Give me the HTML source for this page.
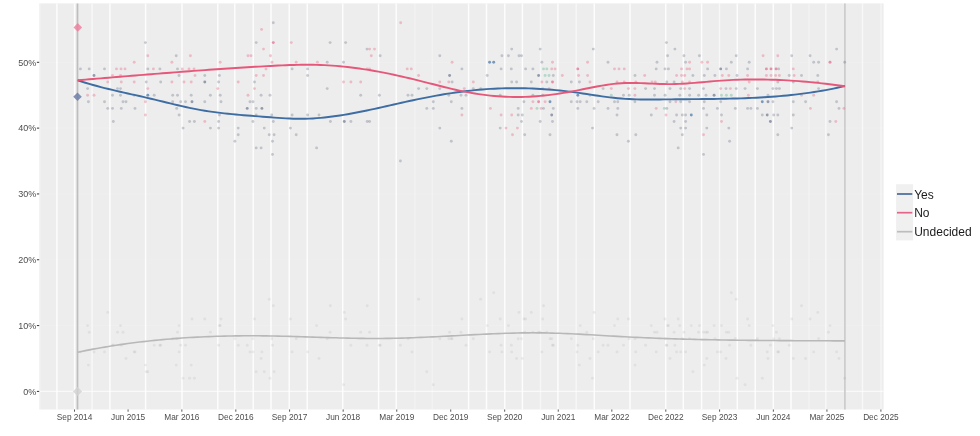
<!DOCTYPE html><html><head><meta charset="utf-8"><style>html,body{margin:0;padding:0;background:#fff;width:980px;height:436px;overflow:hidden}svg{display:block;filter:blur(0.35px)}text{font-family:"Liberation Sans",Arial,sans-serif}</style></head><body>
<svg width="980" height="436" viewBox="0 0 980 436">
<rect x="39.2" y="3.4" width="844.4" height="406.1" fill="#EDEDED"/>
<line x1="39.2" x2="883.6" y1="325.58" y2="325.58" stroke="#fff" stroke-opacity="0.12" stroke-width="1.2"/>
<line x1="39.2" x2="883.6" y1="259.76" y2="259.76" stroke="#fff" stroke-opacity="0.12" stroke-width="1.2"/>
<line x1="39.2" x2="883.6" y1="193.94" y2="193.94" stroke="#fff" stroke-opacity="0.12" stroke-width="1.2"/>
<line x1="39.2" x2="883.6" y1="128.12" y2="128.12" stroke="#fff" stroke-opacity="0.12" stroke-width="1.2"/>
<line x1="39.2" x2="883.6" y1="62.30" y2="62.30" stroke="#fff" stroke-opacity="0.12" stroke-width="1.2"/>
<line x1="39.2" x2="883.6" y1="391.40" y2="391.40" stroke="#fff" stroke-opacity="0.65" stroke-width="1.3"/>
<line x1="40.0" x2="40.0" y1="3.4" y2="409.5" stroke="#fff" stroke-opacity="0.26" stroke-width="1.5"/>
<line x1="56.9" x2="56.9" y1="3.4" y2="409.5" stroke="#fff" stroke-opacity="0.85" stroke-width="1.5"/>
<line x1="74.6" x2="74.6" y1="3.4" y2="409.5" stroke="#fff" stroke-opacity="0.85" stroke-width="1.5"/>
<line x1="92.1" x2="92.1" y1="3.4" y2="409.5" stroke="#fff" stroke-opacity="0.59" stroke-width="1.5"/>
<line x1="109.9" x2="109.9" y1="3.4" y2="409.5" stroke="#fff" stroke-opacity="0.85" stroke-width="1.5"/>
<line x1="145.6" x2="145.6" y1="3.4" y2="409.5" stroke="#fff" stroke-opacity="0.85" stroke-width="1.5"/>
<line x1="182" x2="182" y1="3.4" y2="409.5" stroke="#fff" stroke-opacity="0.85" stroke-width="1.5"/>
<line x1="217.8" x2="217.8" y1="3.4" y2="409.5" stroke="#fff" stroke-opacity="0.85" stroke-width="1.5"/>
<line x1="234.8" x2="234.8" y1="3.4" y2="409.5" stroke="#fff" stroke-opacity="0.85" stroke-width="1.5"/>
<line x1="253.2" x2="253.2" y1="3.4" y2="409.5" stroke="#fff" stroke-opacity="0.85" stroke-width="1.5"/>
<line x1="271" x2="271" y1="3.4" y2="409.5" stroke="#fff" stroke-opacity="0.85" stroke-width="1.5"/>
<line x1="289.2" x2="289.2" y1="3.4" y2="409.5" stroke="#fff" stroke-opacity="0.85" stroke-width="1.5"/>
<line x1="307.2" x2="307.2" y1="3.4" y2="409.5" stroke="#fff" stroke-opacity="0.85" stroke-width="1.5"/>
<line x1="342.7" x2="342.7" y1="3.4" y2="409.5" stroke="#fff" stroke-opacity="0.85" stroke-width="1.5"/>
<line x1="378.6" x2="378.6" y1="3.4" y2="409.5" stroke="#fff" stroke-opacity="0.85" stroke-width="1.5"/>
<line x1="396.2" x2="396.2" y1="3.4" y2="409.5" stroke="#fff" stroke-opacity="0.85" stroke-width="1.5"/>
<line x1="414.9" x2="414.9" y1="3.4" y2="409.5" stroke="#fff" stroke-opacity="0.30" stroke-width="1.5"/>
<line x1="432.3" x2="432.3" y1="3.4" y2="409.5" stroke="#fff" stroke-opacity="0.30" stroke-width="1.5"/>
<line x1="468.6" x2="468.6" y1="3.4" y2="409.5" stroke="#fff" stroke-opacity="0.85" stroke-width="1.5"/>
<line x1="486.5" x2="486.5" y1="3.4" y2="409.5" stroke="#fff" stroke-opacity="0.85" stroke-width="1.5"/>
<line x1="504.8" x2="504.8" y1="3.4" y2="409.5" stroke="#fff" stroke-opacity="0.85" stroke-width="1.5"/>
<line x1="522.4" x2="522.4" y1="3.4" y2="409.5" stroke="#fff" stroke-opacity="0.85" stroke-width="1.5"/>
<line x1="540.5" x2="540.5" y1="3.4" y2="409.5" stroke="#fff" stroke-opacity="0.51" stroke-width="1.5"/>
<line x1="557.9" x2="557.9" y1="3.4" y2="409.5" stroke="#fff" stroke-opacity="0.85" stroke-width="1.5"/>
<line x1="576.2" x2="576.2" y1="3.4" y2="409.5" stroke="#fff" stroke-opacity="0.51" stroke-width="1.5"/>
<line x1="594.3" x2="594.3" y1="3.4" y2="409.5" stroke="#fff" stroke-opacity="0.85" stroke-width="1.5"/>
<line x1="630" x2="630" y1="3.4" y2="409.5" stroke="#fff" stroke-opacity="0.85" stroke-width="1.5"/>
<line x1="665.7" x2="665.7" y1="3.4" y2="409.5" stroke="#fff" stroke-opacity="0.85" stroke-width="1.5"/>
<line x1="683.3" x2="683.3" y1="3.4" y2="409.5" stroke="#fff" stroke-opacity="0.85" stroke-width="1.5"/>
<line x1="701.6" x2="701.6" y1="3.4" y2="409.5" stroke="#fff" stroke-opacity="0.85" stroke-width="1.5"/>
<line x1="719.5" x2="719.5" y1="3.4" y2="409.5" stroke="#fff" stroke-opacity="0.59" stroke-width="1.5"/>
<line x1="737.3" x2="737.3" y1="3.4" y2="409.5" stroke="#fff" stroke-opacity="0.85" stroke-width="1.5"/>
<line x1="755.2" x2="755.2" y1="3.4" y2="409.5" stroke="#fff" stroke-opacity="0.85" stroke-width="1.5"/>
<line x1="773.3" x2="773.3" y1="3.4" y2="409.5" stroke="#fff" stroke-opacity="0.85" stroke-width="1.5"/>
<line x1="791" x2="791" y1="3.4" y2="409.5" stroke="#fff" stroke-opacity="0.85" stroke-width="1.5"/>
<line x1="809" x2="809" y1="3.4" y2="409.5" stroke="#fff" stroke-opacity="0.30" stroke-width="1.5"/>
<line x1="825.8" x2="825.8" y1="3.4" y2="409.5" stroke="#fff" stroke-opacity="0.59" stroke-width="1.5"/>
<line x1="862.5" x2="862.5" y1="3.4" y2="409.5" stroke="#fff" stroke-opacity="0.59" stroke-width="1.5"/>
<line x1="881.0" x2="881.0" y1="3.4" y2="409.5" stroke="#fff" stroke-opacity="0.47" stroke-width="1.5"/>
<line x1="77.5" x2="77.5" y1="3.4" y2="409.5" stroke="#BEBEBE" stroke-width="1.7"/>
<line x1="844.9" x2="844.9" y1="3.4" y2="409.5" stroke="#CBCBCB" stroke-width="1.7"/>
<g><circle cx="80.4" cy="351.9" r="1.45" fill="#A0A0A0" fill-opacity="0.17"/><circle cx="87.6" cy="325.6" r="1.45" fill="#A0A0A0" fill-opacity="0.17"/><circle cx="88.4" cy="365.1" r="1.45" fill="#A0A0A0" fill-opacity="0.17"/><circle cx="89.2" cy="332.2" r="1.45" fill="#A0A0A0" fill-opacity="0.17"/><circle cx="94.0" cy="351.9" r="1.45" fill="#A0A0A0" fill-opacity="0.17"/><circle cx="104.5" cy="351.9" r="1.45" fill="#A0A0A0" fill-opacity="0.17"/><circle cx="107.7" cy="312.4" r="1.45" fill="#A0A0A0" fill-opacity="0.17"/><circle cx="112.5" cy="345.3" r="1.45" fill="#A0A0A0" fill-opacity="0.17"/><circle cx="113.3" cy="345.3" r="1.45" fill="#A0A0A0" fill-opacity="0.17"/><circle cx="117.5" cy="332.2" r="1.45" fill="#A0A0A0" fill-opacity="0.17"/><circle cx="120.5" cy="325.6" r="1.45" fill="#A0A0A0" fill-opacity="0.17"/><circle cx="121.3" cy="345.3" r="1.45" fill="#A0A0A0" fill-opacity="0.17"/><circle cx="123.0" cy="332.2" r="1.45" fill="#A0A0A0" fill-opacity="0.17"/><circle cx="126.0" cy="358.5" r="1.45" fill="#A0A0A0" fill-opacity="0.17"/><circle cx="134.2" cy="351.9" r="1.45" fill="#A0A0A0" fill-opacity="0.17"/><circle cx="135.0" cy="351.9" r="1.45" fill="#A0A0A0" fill-opacity="0.17"/><circle cx="145.4" cy="365.1" r="1.45" fill="#A0A0A0" fill-opacity="0.17"/><circle cx="146.2" cy="371.7" r="1.45" fill="#A0A0A0" fill-opacity="0.17"/><circle cx="147.8" cy="371.7" r="1.45" fill="#A0A0A0" fill-opacity="0.17"/><circle cx="154.2" cy="345.3" r="1.45" fill="#A0A0A0" fill-opacity="0.17"/><circle cx="159.9" cy="345.3" r="1.45" fill="#A0A0A0" fill-opacity="0.17"/><circle cx="160.7" cy="345.3" r="1.45" fill="#A0A0A0" fill-opacity="0.17"/><circle cx="172.7" cy="338.7" r="1.45" fill="#A0A0A0" fill-opacity="0.17"/><circle cx="176.2" cy="365.1" r="1.45" fill="#A0A0A0" fill-opacity="0.17"/><circle cx="176.7" cy="338.7" r="1.45" fill="#A0A0A0" fill-opacity="0.17"/><circle cx="177.5" cy="332.2" r="1.45" fill="#A0A0A0" fill-opacity="0.17"/><circle cx="179.0" cy="325.6" r="1.45" fill="#A0A0A0" fill-opacity="0.17"/><circle cx="179.1" cy="351.9" r="1.45" fill="#A0A0A0" fill-opacity="0.17"/><circle cx="180.7" cy="345.3" r="1.45" fill="#A0A0A0" fill-opacity="0.17"/><circle cx="183.1" cy="378.2" r="1.45" fill="#A0A0A0" fill-opacity="0.17"/><circle cx="185.5" cy="345.3" r="1.45" fill="#A0A0A0" fill-opacity="0.17"/><circle cx="189.6" cy="378.2" r="1.45" fill="#A0A0A0" fill-opacity="0.17"/><circle cx="191.2" cy="365.1" r="1.45" fill="#A0A0A0" fill-opacity="0.17"/><circle cx="192.0" cy="319.0" r="1.45" fill="#A0A0A0" fill-opacity="0.17"/><circle cx="194.4" cy="378.2" r="1.45" fill="#A0A0A0" fill-opacity="0.17"/><circle cx="204.8" cy="319.0" r="1.45" fill="#A0A0A0" fill-opacity="0.17"/><circle cx="210.4" cy="332.2" r="1.45" fill="#A0A0A0" fill-opacity="0.17"/><circle cx="218.6" cy="345.3" r="1.45" fill="#A0A0A0" fill-opacity="0.17"/><circle cx="219.4" cy="325.6" r="1.45" fill="#A0A0A0" fill-opacity="0.17"/><circle cx="220.2" cy="325.6" r="1.45" fill="#A0A0A0" fill-opacity="0.17"/><circle cx="221.0" cy="319.0" r="1.45" fill="#A0A0A0" fill-opacity="0.17"/><circle cx="234.9" cy="338.7" r="1.45" fill="#A0A0A0" fill-opacity="0.17"/><circle cx="238.2" cy="345.3" r="1.45" fill="#A0A0A0" fill-opacity="0.17"/><circle cx="247.2" cy="345.3" r="1.45" fill="#A0A0A0" fill-opacity="0.17"/><circle cx="250.0" cy="351.9" r="1.45" fill="#A0A0A0" fill-opacity="0.17"/><circle cx="252.9" cy="338.7" r="1.45" fill="#A0A0A0" fill-opacity="0.17"/><circle cx="253.0" cy="351.9" r="1.45" fill="#A0A0A0" fill-opacity="0.17"/><circle cx="254.5" cy="319.0" r="1.45" fill="#A0A0A0" fill-opacity="0.17"/><circle cx="256.2" cy="371.7" r="1.45" fill="#A0A0A0" fill-opacity="0.17"/><circle cx="261.1" cy="358.5" r="1.45" fill="#A0A0A0" fill-opacity="0.17"/><circle cx="261.9" cy="351.9" r="1.45" fill="#A0A0A0" fill-opacity="0.17"/><circle cx="264.3" cy="371.7" r="1.45" fill="#A0A0A0" fill-opacity="0.17"/><circle cx="269.2" cy="299.3" r="1.45" fill="#A0A0A0" fill-opacity="0.17"/><circle cx="270.0" cy="378.2" r="1.45" fill="#A0A0A0" fill-opacity="0.17"/><circle cx="271.7" cy="338.7" r="1.45" fill="#A0A0A0" fill-opacity="0.17"/><circle cx="272.5" cy="345.3" r="1.45" fill="#A0A0A0" fill-opacity="0.17"/><circle cx="273.3" cy="305.8" r="1.45" fill="#A0A0A0" fill-opacity="0.17"/><circle cx="274.1" cy="371.7" r="1.45" fill="#A0A0A0" fill-opacity="0.17"/><circle cx="290.4" cy="319.0" r="1.45" fill="#A0A0A0" fill-opacity="0.17"/><circle cx="292.1" cy="351.9" r="1.45" fill="#A0A0A0" fill-opacity="0.17"/><circle cx="296.2" cy="338.7" r="1.45" fill="#A0A0A0" fill-opacity="0.17"/><circle cx="307.6" cy="351.9" r="1.45" fill="#A0A0A0" fill-opacity="0.17"/><circle cx="316.6" cy="325.6" r="1.45" fill="#A0A0A0" fill-opacity="0.17"/><circle cx="319.0" cy="358.5" r="1.45" fill="#A0A0A0" fill-opacity="0.17"/><circle cx="327.2" cy="338.7" r="1.45" fill="#A0A0A0" fill-opacity="0.17"/><circle cx="330.1" cy="332.2" r="1.45" fill="#A0A0A0" fill-opacity="0.17"/><circle cx="330.4" cy="305.8" r="1.45" fill="#A0A0A0" fill-opacity="0.17"/><circle cx="343.5" cy="384.8" r="1.45" fill="#A0A0A0" fill-opacity="0.17"/><circle cx="344.3" cy="312.4" r="1.45" fill="#A0A0A0" fill-opacity="0.17"/><circle cx="345.6" cy="319.0" r="1.45" fill="#A0A0A0" fill-opacity="0.17"/><circle cx="350.9" cy="345.3" r="1.45" fill="#A0A0A0" fill-opacity="0.17"/><circle cx="360.7" cy="332.2" r="1.45" fill="#A0A0A0" fill-opacity="0.17"/><circle cx="367.0" cy="345.3" r="1.45" fill="#A0A0A0" fill-opacity="0.17"/><circle cx="367.2" cy="305.8" r="1.45" fill="#A0A0A0" fill-opacity="0.17"/><circle cx="369.6" cy="332.2" r="1.45" fill="#A0A0A0" fill-opacity="0.17"/><circle cx="379.4" cy="345.3" r="1.45" fill="#A0A0A0" fill-opacity="0.17"/><circle cx="380.2" cy="345.3" r="1.45" fill="#A0A0A0" fill-opacity="0.17"/><circle cx="400.4" cy="345.3" r="1.45" fill="#A0A0A0" fill-opacity="0.17"/><circle cx="408.0" cy="338.7" r="1.45" fill="#A0A0A0" fill-opacity="0.17"/><circle cx="412.0" cy="351.9" r="1.45" fill="#A0A0A0" fill-opacity="0.17"/><circle cx="418.6" cy="299.3" r="1.45" fill="#A0A0A0" fill-opacity="0.17"/><circle cx="426.8" cy="371.7" r="1.45" fill="#A0A0A0" fill-opacity="0.17"/><circle cx="433.3" cy="384.8" r="1.45" fill="#A0A0A0" fill-opacity="0.17"/><circle cx="439.8" cy="338.7" r="1.45" fill="#A0A0A0" fill-opacity="0.17"/><circle cx="448.8" cy="338.7" r="1.45" fill="#A0A0A0" fill-opacity="0.17"/><circle cx="449.6" cy="332.2" r="1.45" fill="#A0A0A0" fill-opacity="0.17"/><circle cx="451.3" cy="338.7" r="1.45" fill="#A0A0A0" fill-opacity="0.17"/><circle cx="452.1" cy="338.7" r="1.45" fill="#A0A0A0" fill-opacity="0.17"/><circle cx="461.0" cy="332.2" r="1.45" fill="#A0A0A0" fill-opacity="0.17"/><circle cx="461.9" cy="319.0" r="1.45" fill="#A0A0A0" fill-opacity="0.17"/><circle cx="466.0" cy="345.3" r="1.45" fill="#A0A0A0" fill-opacity="0.17"/><circle cx="473.3" cy="338.7" r="1.45" fill="#A0A0A0" fill-opacity="0.17"/><circle cx="480.7" cy="299.3" r="1.45" fill="#A0A0A0" fill-opacity="0.17"/><circle cx="487.2" cy="325.6" r="1.45" fill="#A0A0A0" fill-opacity="0.17"/><circle cx="489.6" cy="351.9" r="1.45" fill="#A0A0A0" fill-opacity="0.17"/><circle cx="493.7" cy="292.7" r="1.45" fill="#A0A0A0" fill-opacity="0.17"/><circle cx="500.2" cy="319.0" r="1.45" fill="#A0A0A0" fill-opacity="0.17"/><circle cx="501.1" cy="345.3" r="1.45" fill="#A0A0A0" fill-opacity="0.17"/><circle cx="501.9" cy="351.9" r="1.45" fill="#A0A0A0" fill-opacity="0.17"/><circle cx="508.4" cy="325.6" r="1.45" fill="#A0A0A0" fill-opacity="0.17"/><circle cx="511.3" cy="345.3" r="1.45" fill="#A0A0A0" fill-opacity="0.17"/><circle cx="511.7" cy="351.9" r="1.45" fill="#A0A0A0" fill-opacity="0.17"/><circle cx="516.6" cy="358.5" r="1.45" fill="#A0A0A0" fill-opacity="0.17"/><circle cx="518.2" cy="338.7" r="1.45" fill="#A0A0A0" fill-opacity="0.17"/><circle cx="519.0" cy="312.4" r="1.45" fill="#A0A0A0" fill-opacity="0.17"/><circle cx="521.5" cy="338.7" r="1.45" fill="#A0A0A0" fill-opacity="0.17"/><circle cx="522.3" cy="358.5" r="1.45" fill="#A0A0A0" fill-opacity="0.17"/><circle cx="523.9" cy="319.0" r="1.45" fill="#A0A0A0" fill-opacity="0.17"/><circle cx="524.7" cy="332.2" r="1.45" fill="#A0A0A0" fill-opacity="0.17"/><circle cx="525.6" cy="319.0" r="1.45" fill="#A0A0A0" fill-opacity="0.17"/><circle cx="531.3" cy="312.4" r="1.45" fill="#A0A0A0" fill-opacity="0.17"/><circle cx="532.9" cy="332.2" r="1.45" fill="#A0A0A0" fill-opacity="0.17"/><circle cx="538.6" cy="332.2" r="1.45" fill="#A0A0A0" fill-opacity="0.17"/><circle cx="540.2" cy="332.2" r="1.45" fill="#A0A0A0" fill-opacity="0.17"/><circle cx="541.9" cy="351.9" r="1.45" fill="#A0A0A0" fill-opacity="0.17"/><circle cx="542.7" cy="319.0" r="1.45" fill="#A0A0A0" fill-opacity="0.17"/><circle cx="543.5" cy="305.8" r="1.45" fill="#A0A0A0" fill-opacity="0.17"/><circle cx="546.8" cy="332.2" r="1.45" fill="#A0A0A0" fill-opacity="0.17"/><circle cx="550.0" cy="338.7" r="1.45" fill="#A0A0A0" fill-opacity="0.17"/><circle cx="551.7" cy="338.7" r="1.45" fill="#A0A0A0" fill-opacity="0.17"/><circle cx="552.5" cy="345.3" r="1.45" fill="#A0A0A0" fill-opacity="0.17"/><circle cx="553.3" cy="345.3" r="1.45" fill="#A0A0A0" fill-opacity="0.17"/><circle cx="571.3" cy="338.7" r="1.45" fill="#A0A0A0" fill-opacity="0.17"/><circle cx="577.0" cy="351.9" r="1.45" fill="#A0A0A0" fill-opacity="0.17"/><circle cx="577.8" cy="345.3" r="1.45" fill="#A0A0A0" fill-opacity="0.17"/><circle cx="579.4" cy="365.1" r="1.45" fill="#A0A0A0" fill-opacity="0.17"/><circle cx="580.2" cy="325.6" r="1.45" fill="#A0A0A0" fill-opacity="0.17"/><circle cx="586.8" cy="332.2" r="1.45" fill="#A0A0A0" fill-opacity="0.17"/><circle cx="590.0" cy="358.5" r="1.45" fill="#A0A0A0" fill-opacity="0.17"/><circle cx="592.5" cy="378.2" r="1.45" fill="#A0A0A0" fill-opacity="0.17"/><circle cx="593.3" cy="338.7" r="1.45" fill="#A0A0A0" fill-opacity="0.17"/><circle cx="594.1" cy="312.4" r="1.45" fill="#A0A0A0" fill-opacity="0.17"/><circle cx="598.2" cy="351.9" r="1.45" fill="#A0A0A0" fill-opacity="0.17"/><circle cx="603.1" cy="345.3" r="1.45" fill="#A0A0A0" fill-opacity="0.17"/><circle cx="608.0" cy="345.3" r="1.45" fill="#A0A0A0" fill-opacity="0.17"/><circle cx="614.5" cy="325.6" r="1.45" fill="#A0A0A0" fill-opacity="0.17"/><circle cx="617.0" cy="351.9" r="1.45" fill="#A0A0A0" fill-opacity="0.17"/><circle cx="617.8" cy="319.0" r="1.45" fill="#A0A0A0" fill-opacity="0.17"/><circle cx="623.5" cy="345.3" r="1.45" fill="#A0A0A0" fill-opacity="0.17"/><circle cx="628.4" cy="319.0" r="1.45" fill="#A0A0A0" fill-opacity="0.17"/><circle cx="629.2" cy="338.7" r="1.45" fill="#A0A0A0" fill-opacity="0.17"/><circle cx="634.9" cy="338.7" r="1.45" fill="#A0A0A0" fill-opacity="0.17"/><circle cx="635.0" cy="365.1" r="1.45" fill="#A0A0A0" fill-opacity="0.17"/><circle cx="635.8" cy="351.9" r="1.45" fill="#A0A0A0" fill-opacity="0.17"/><circle cx="645.6" cy="345.3" r="1.45" fill="#A0A0A0" fill-opacity="0.17"/><circle cx="651.3" cy="325.6" r="1.45" fill="#A0A0A0" fill-opacity="0.17"/><circle cx="654.5" cy="332.2" r="1.45" fill="#A0A0A0" fill-opacity="0.17"/><circle cx="656.2" cy="351.9" r="1.45" fill="#A0A0A0" fill-opacity="0.17"/><circle cx="657.0" cy="332.2" r="1.45" fill="#A0A0A0" fill-opacity="0.17"/><circle cx="665.0" cy="319.0" r="1.45" fill="#A0A0A0" fill-opacity="0.17"/><circle cx="665.1" cy="338.7" r="1.45" fill="#A0A0A0" fill-opacity="0.17"/><circle cx="666.4" cy="345.3" r="1.45" fill="#A0A0A0" fill-opacity="0.17"/><circle cx="666.8" cy="345.3" r="1.45" fill="#A0A0A0" fill-opacity="0.17"/><circle cx="667.6" cy="325.6" r="1.45" fill="#A0A0A0" fill-opacity="0.17"/><circle cx="668.4" cy="325.6" r="1.45" fill="#A0A0A0" fill-opacity="0.17"/><circle cx="670.0" cy="358.5" r="1.45" fill="#A0A0A0" fill-opacity="0.17"/><circle cx="674.1" cy="332.2" r="1.45" fill="#A0A0A0" fill-opacity="0.17"/><circle cx="674.9" cy="345.3" r="1.45" fill="#A0A0A0" fill-opacity="0.17"/><circle cx="676.6" cy="351.9" r="1.45" fill="#A0A0A0" fill-opacity="0.17"/><circle cx="678.2" cy="319.0" r="1.45" fill="#A0A0A0" fill-opacity="0.17"/><circle cx="679.8" cy="325.6" r="1.45" fill="#A0A0A0" fill-opacity="0.17"/><circle cx="680.7" cy="351.9" r="1.45" fill="#A0A0A0" fill-opacity="0.17"/><circle cx="682.3" cy="338.7" r="1.45" fill="#A0A0A0" fill-opacity="0.17"/><circle cx="683.9" cy="332.2" r="1.45" fill="#A0A0A0" fill-opacity="0.17"/><circle cx="685.6" cy="351.9" r="1.45" fill="#A0A0A0" fill-opacity="0.17"/><circle cx="689.6" cy="338.7" r="1.45" fill="#A0A0A0" fill-opacity="0.17"/><circle cx="691.3" cy="325.6" r="1.45" fill="#A0A0A0" fill-opacity="0.17"/><circle cx="692.9" cy="371.7" r="1.45" fill="#A0A0A0" fill-opacity="0.17"/><circle cx="698.6" cy="332.2" r="1.45" fill="#A0A0A0" fill-opacity="0.17"/><circle cx="699.4" cy="325.6" r="1.45" fill="#A0A0A0" fill-opacity="0.17"/><circle cx="703.5" cy="332.2" r="1.45" fill="#A0A0A0" fill-opacity="0.17"/><circle cx="704.3" cy="365.1" r="1.45" fill="#A0A0A0" fill-opacity="0.17"/><circle cx="706.0" cy="332.2" r="1.45" fill="#A0A0A0" fill-opacity="0.17"/><circle cx="706.8" cy="358.5" r="1.45" fill="#A0A0A0" fill-opacity="0.17"/><circle cx="707.6" cy="332.2" r="1.45" fill="#A0A0A0" fill-opacity="0.17"/><circle cx="714.1" cy="325.6" r="1.45" fill="#A0A0A0" fill-opacity="0.17"/><circle cx="714.9" cy="338.7" r="1.45" fill="#A0A0A0" fill-opacity="0.17"/><circle cx="717.4" cy="351.9" r="1.45" fill="#A0A0A0" fill-opacity="0.17"/><circle cx="720.7" cy="351.9" r="1.45" fill="#A0A0A0" fill-opacity="0.17"/><circle cx="721.5" cy="325.6" r="1.45" fill="#A0A0A0" fill-opacity="0.17"/><circle cx="726.0" cy="358.5" r="1.45" fill="#A0A0A0" fill-opacity="0.17"/><circle cx="726.4" cy="332.2" r="1.45" fill="#A0A0A0" fill-opacity="0.17"/><circle cx="728.8" cy="332.2" r="1.45" fill="#A0A0A0" fill-opacity="0.17"/><circle cx="729.6" cy="345.3" r="1.45" fill="#A0A0A0" fill-opacity="0.17"/><circle cx="731.3" cy="292.7" r="1.45" fill="#A0A0A0" fill-opacity="0.17"/><circle cx="735.3" cy="338.7" r="1.45" fill="#A0A0A0" fill-opacity="0.17"/><circle cx="736.2" cy="299.3" r="1.45" fill="#A0A0A0" fill-opacity="0.17"/><circle cx="737.0" cy="378.2" r="1.45" fill="#A0A0A0" fill-opacity="0.17"/><circle cx="745.1" cy="384.8" r="1.45" fill="#A0A0A0" fill-opacity="0.17"/><circle cx="747.6" cy="319.0" r="1.45" fill="#A0A0A0" fill-opacity="0.17"/><circle cx="749.2" cy="325.6" r="1.45" fill="#A0A0A0" fill-opacity="0.17"/><circle cx="750.9" cy="345.3" r="1.45" fill="#A0A0A0" fill-opacity="0.17"/><circle cx="757.4" cy="338.7" r="1.45" fill="#A0A0A0" fill-opacity="0.17"/><circle cx="762.3" cy="378.2" r="1.45" fill="#A0A0A0" fill-opacity="0.17"/><circle cx="767.2" cy="351.9" r="1.45" fill="#A0A0A0" fill-opacity="0.17"/><circle cx="768.0" cy="358.5" r="1.45" fill="#A0A0A0" fill-opacity="0.17"/><circle cx="770.4" cy="345.3" r="1.45" fill="#A0A0A0" fill-opacity="0.17"/><circle cx="772.9" cy="325.6" r="1.45" fill="#A0A0A0" fill-opacity="0.17"/><circle cx="773.7" cy="338.7" r="1.45" fill="#A0A0A0" fill-opacity="0.17"/><circle cx="776.4" cy="332.2" r="1.45" fill="#A0A0A0" fill-opacity="0.17"/><circle cx="777.8" cy="351.9" r="1.45" fill="#A0A0A0" fill-opacity="0.17"/><circle cx="778.6" cy="351.9" r="1.45" fill="#A0A0A0" fill-opacity="0.17"/><circle cx="779.4" cy="338.7" r="1.45" fill="#A0A0A0" fill-opacity="0.17"/><circle cx="789.2" cy="345.3" r="1.45" fill="#A0A0A0" fill-opacity="0.17"/><circle cx="791.7" cy="319.0" r="1.45" fill="#A0A0A0" fill-opacity="0.17"/><circle cx="793.3" cy="358.5" r="1.45" fill="#A0A0A0" fill-opacity="0.17"/><circle cx="801.5" cy="305.8" r="1.45" fill="#A0A0A0" fill-opacity="0.17"/><circle cx="805.6" cy="358.5" r="1.45" fill="#A0A0A0" fill-opacity="0.17"/><circle cx="810.1" cy="319.0" r="1.45" fill="#A0A0A0" fill-opacity="0.17"/><circle cx="813.7" cy="351.9" r="1.45" fill="#A0A0A0" fill-opacity="0.17"/><circle cx="817.8" cy="312.4" r="1.45" fill="#A0A0A0" fill-opacity="0.17"/><circle cx="818.6" cy="338.7" r="1.45" fill="#A0A0A0" fill-opacity="0.17"/><circle cx="828.4" cy="332.2" r="1.45" fill="#A0A0A0" fill-opacity="0.17"/><circle cx="830.0" cy="325.6" r="1.45" fill="#A0A0A0" fill-opacity="0.17"/><circle cx="836.6" cy="351.9" r="1.45" fill="#A0A0A0" fill-opacity="0.17"/><circle cx="839.0" cy="358.5" r="1.45" fill="#A0A0A0" fill-opacity="0.17"/><circle cx="844.7" cy="378.2" r="1.45" fill="#A0A0A0" fill-opacity="0.17"/><circle cx="145.4" cy="42.6" r="1.45" fill="#5F6A80" fill-opacity="0.32"/><circle cx="176.2" cy="55.7" r="1.45" fill="#5F6A80" fill-opacity="0.32"/><circle cx="147.8" cy="55.7" r="1.45" fill="#E8607F" fill-opacity="0.36"/><circle cx="190.4" cy="55.7" r="1.45" fill="#E8607F" fill-opacity="0.36"/><circle cx="134.2" cy="62.3" r="1.45" fill="#E8607F" fill-opacity="0.36"/><circle cx="171.9" cy="62.3" r="1.45" fill="#E8607F" fill-opacity="0.36"/><circle cx="80.4" cy="68.9" r="1.45" fill="#5F6A80" fill-opacity="0.32"/><circle cx="89.2" cy="68.9" r="1.45" fill="#5F6A80" fill-opacity="0.32"/><circle cx="104.5" cy="68.9" r="1.45" fill="#5F6A80" fill-opacity="0.32"/><circle cx="147.8" cy="68.9" r="1.45" fill="#5F6A80" fill-opacity="0.32"/><circle cx="159.9" cy="68.9" r="1.45" fill="#5F6A80" fill-opacity="0.32"/><circle cx="177.5" cy="68.9" r="1.45" fill="#5F6A80" fill-opacity="0.32"/><circle cx="116.5" cy="68.9" r="1.45" fill="#E8607F" fill-opacity="0.36"/><circle cx="121.0" cy="68.9" r="1.45" fill="#E8607F" fill-opacity="0.36"/><circle cx="125.0" cy="68.9" r="1.45" fill="#E8607F" fill-opacity="0.36"/><circle cx="153.4" cy="68.9" r="1.45" fill="#E8607F" fill-opacity="0.36"/><circle cx="182.3" cy="68.9" r="1.45" fill="#E8607F" fill-opacity="0.36"/><circle cx="189.0" cy="68.9" r="1.45" fill="#E8607F" fill-opacity="0.36"/><circle cx="194.0" cy="68.9" r="1.45" fill="#E8607F" fill-opacity="0.36"/><circle cx="94.0" cy="75.5" r="1.45" fill="#4A5878" fill-opacity="0.55"/><circle cx="112.5" cy="75.5" r="1.45" fill="#E8607F" fill-opacity="0.36"/><circle cx="120.5" cy="75.5" r="1.45" fill="#E8607F" fill-opacity="0.36"/><circle cx="195.0" cy="75.5" r="1.45" fill="#E8607F" fill-opacity="0.36"/><circle cx="179.0" cy="75.5" r="1.45" fill="#5F6A80" fill-opacity="0.32"/><circle cx="204.8" cy="75.5" r="1.45" fill="#5F6A80" fill-opacity="0.32"/><circle cx="146.2" cy="82.0" r="1.45" fill="#5F6A80" fill-opacity="0.32"/><circle cx="160.7" cy="82.0" r="1.45" fill="#5F6A80" fill-opacity="0.32"/><circle cx="204.8" cy="82.0" r="1.45" fill="#4A5878" fill-opacity="0.55"/><circle cx="107.7" cy="82.0" r="1.45" fill="#E8607F" fill-opacity="0.36"/><circle cx="121.3" cy="82.0" r="1.45" fill="#E8607F" fill-opacity="0.36"/><circle cx="134.2" cy="82.0" r="1.45" fill="#E8607F" fill-opacity="0.36"/><circle cx="171.9" cy="82.0" r="1.45" fill="#E8607F" fill-opacity="0.36"/><circle cx="184.0" cy="82.0" r="1.45" fill="#E8607F" fill-opacity="0.36"/><circle cx="191.2" cy="82.0" r="1.45" fill="#E8607F" fill-opacity="0.36"/><circle cx="87.6" cy="88.6" r="1.45" fill="#5F6A80" fill-opacity="0.32"/><circle cx="117.5" cy="88.6" r="1.45" fill="#5F6A80" fill-opacity="0.32"/><circle cx="120.5" cy="88.6" r="1.45" fill="#5F6A80" fill-opacity="0.32"/><circle cx="147.8" cy="88.6" r="1.45" fill="#E8607F" fill-opacity="0.36"/><circle cx="87.6" cy="95.2" r="1.45" fill="#E8607F" fill-opacity="0.36"/><circle cx="94.0" cy="95.2" r="1.45" fill="#E8607F" fill-opacity="0.36"/><circle cx="112.5" cy="95.2" r="1.45" fill="#5F6A80" fill-opacity="0.32"/><circle cx="120.5" cy="95.2" r="1.45" fill="#5F6A80" fill-opacity="0.32"/><circle cx="134.2" cy="95.2" r="1.45" fill="#5F6A80" fill-opacity="0.32"/><circle cx="154.2" cy="95.2" r="1.45" fill="#5F6A80" fill-opacity="0.32"/><circle cx="172.7" cy="95.2" r="1.45" fill="#5F6A80" fill-opacity="0.32"/><circle cx="177.5" cy="95.2" r="1.45" fill="#5F6A80" fill-opacity="0.32"/><circle cx="191.2" cy="95.2" r="1.45" fill="#5F6A80" fill-opacity="0.32"/><circle cx="147.8" cy="95.2" r="1.45" fill="#3A6A9F" fill-opacity="0.65"/><circle cx="88.4" cy="101.8" r="1.45" fill="#5F6A80" fill-opacity="0.32"/><circle cx="104.5" cy="101.8" r="1.45" fill="#5F6A80" fill-opacity="0.32"/><circle cx="123.0" cy="101.8" r="1.45" fill="#5F6A80" fill-opacity="0.32"/><circle cx="126.0" cy="101.8" r="1.45" fill="#5F6A80" fill-opacity="0.32"/><circle cx="172.7" cy="101.8" r="1.45" fill="#5F6A80" fill-opacity="0.32"/><circle cx="180.7" cy="101.8" r="1.45" fill="#5F6A80" fill-opacity="0.32"/><circle cx="185.5" cy="101.8" r="1.45" fill="#5F6A80" fill-opacity="0.32"/><circle cx="204.8" cy="101.8" r="1.45" fill="#5F6A80" fill-opacity="0.32"/><circle cx="192.0" cy="101.8" r="1.45" fill="#4A5878" fill-opacity="0.55"/><circle cx="145.4" cy="101.8" r="1.45" fill="#E8607F" fill-opacity="0.36"/><circle cx="107.7" cy="108.4" r="1.45" fill="#5F6A80" fill-opacity="0.32"/><circle cx="112.5" cy="108.4" r="1.45" fill="#5F6A80" fill-opacity="0.32"/><circle cx="121.3" cy="108.4" r="1.45" fill="#5F6A80" fill-opacity="0.32"/><circle cx="135.0" cy="108.4" r="1.45" fill="#5F6A80" fill-opacity="0.32"/><circle cx="176.7" cy="108.4" r="1.45" fill="#5F6A80" fill-opacity="0.32"/><circle cx="145.4" cy="115.0" r="1.45" fill="#E8607F" fill-opacity="0.36"/><circle cx="179.1" cy="115.0" r="1.45" fill="#5F6A80" fill-opacity="0.32"/><circle cx="113.3" cy="121.5" r="1.45" fill="#5F6A80" fill-opacity="0.32"/><circle cx="189.6" cy="121.5" r="1.45" fill="#5F6A80" fill-opacity="0.32"/><circle cx="194.4" cy="121.5" r="1.45" fill="#5F6A80" fill-opacity="0.32"/><circle cx="183.1" cy="128.1" r="1.45" fill="#5F6A80" fill-opacity="0.32"/><circle cx="204.8" cy="121.5" r="1.45" fill="#E8607F" fill-opacity="0.36"/><circle cx="273.3" cy="22.8" r="1.45" fill="#5F6A80" fill-opacity="0.32"/><circle cx="256.2" cy="42.6" r="1.45" fill="#5F6A80" fill-opacity="0.32"/><circle cx="330.1" cy="42.6" r="1.45" fill="#5F6A80" fill-opacity="0.32"/><circle cx="345.6" cy="42.6" r="1.45" fill="#5F6A80" fill-opacity="0.32"/><circle cx="327.2" cy="62.3" r="1.45" fill="#5F6A80" fill-opacity="0.32"/><circle cx="343.5" cy="62.3" r="1.45" fill="#5F6A80" fill-opacity="0.32"/><circle cx="367.0" cy="49.1" r="1.45" fill="#5F6A80" fill-opacity="0.32"/><circle cx="292.1" cy="68.9" r="1.45" fill="#5F6A80" fill-opacity="0.32"/><circle cx="307.6" cy="68.9" r="1.45" fill="#5F6A80" fill-opacity="0.32"/><circle cx="219.4" cy="75.5" r="1.45" fill="#5F6A80" fill-opacity="0.32"/><circle cx="307.6" cy="75.5" r="1.45" fill="#5F6A80" fill-opacity="0.32"/><circle cx="218.6" cy="82.0" r="1.45" fill="#5F6A80" fill-opacity="0.32"/><circle cx="254.5" cy="82.0" r="1.45" fill="#5F6A80" fill-opacity="0.32"/><circle cx="261.6" cy="29.4" r="1.45" fill="#E8607F" fill-opacity="0.36"/><circle cx="291.3" cy="42.6" r="1.45" fill="#E8607F" fill-opacity="0.36"/><circle cx="263.5" cy="49.1" r="1.45" fill="#E8607F" fill-opacity="0.36"/><circle cx="248.0" cy="55.7" r="1.45" fill="#E8607F" fill-opacity="0.36"/><circle cx="251.0" cy="55.7" r="1.45" fill="#E8607F" fill-opacity="0.36"/><circle cx="270.5" cy="55.7" r="1.45" fill="#E8607F" fill-opacity="0.36"/><circle cx="220.2" cy="62.3" r="1.45" fill="#E8607F" fill-opacity="0.36"/><circle cx="272.0" cy="62.3" r="1.45" fill="#E8607F" fill-opacity="0.36"/><circle cx="296.2" cy="62.3" r="1.45" fill="#E8607F" fill-opacity="0.36"/><circle cx="317.4" cy="62.3" r="1.45" fill="#E8607F" fill-opacity="0.36"/><circle cx="266.0" cy="68.9" r="1.45" fill="#E8607F" fill-opacity="0.36"/><circle cx="367.2" cy="68.9" r="1.45" fill="#E8607F" fill-opacity="0.36"/><circle cx="256.2" cy="75.5" r="1.45" fill="#E8607F" fill-opacity="0.36"/><circle cx="263.5" cy="75.5" r="1.45" fill="#E8607F" fill-opacity="0.36"/><circle cx="238.2" cy="82.0" r="1.45" fill="#E8607F" fill-opacity="0.36"/><circle cx="343.5" cy="82.0" r="1.45" fill="#E8607F" fill-opacity="0.36"/><circle cx="350.9" cy="82.0" r="1.45" fill="#E8607F" fill-opacity="0.36"/><circle cx="360.7" cy="82.0" r="1.45" fill="#E8607F" fill-opacity="0.36"/><circle cx="273.3" cy="42.6" r="1.45" fill="#E0507A" fill-opacity="0.6"/><circle cx="217.8" cy="88.6" r="1.45" fill="#E8607F" fill-opacity="0.36"/><circle cx="254.5" cy="88.6" r="1.45" fill="#E8607F" fill-opacity="0.36"/><circle cx="248.0" cy="95.2" r="1.45" fill="#E8607F" fill-opacity="0.36"/><circle cx="327.2" cy="88.6" r="1.45" fill="#5F6A80" fill-opacity="0.32"/><circle cx="210.4" cy="95.2" r="1.45" fill="#5F6A80" fill-opacity="0.32"/><circle cx="220.2" cy="95.2" r="1.45" fill="#5F6A80" fill-opacity="0.32"/><circle cx="261.1" cy="95.2" r="1.45" fill="#5F6A80" fill-opacity="0.32"/><circle cx="270.0" cy="95.2" r="1.45" fill="#5F6A80" fill-opacity="0.32"/><circle cx="360.7" cy="95.2" r="1.45" fill="#5F6A80" fill-opacity="0.32"/><circle cx="221.0" cy="101.8" r="1.45" fill="#5F6A80" fill-opacity="0.32"/><circle cx="250.0" cy="101.8" r="1.45" fill="#5F6A80" fill-opacity="0.32"/><circle cx="253.0" cy="101.8" r="1.45" fill="#5F6A80" fill-opacity="0.32"/><circle cx="256.2" cy="108.4" r="1.45" fill="#5F6A80" fill-opacity="0.32"/><circle cx="219.4" cy="115.0" r="1.45" fill="#5F6A80" fill-opacity="0.32"/><circle cx="256.2" cy="115.0" r="1.45" fill="#5F6A80" fill-opacity="0.32"/><circle cx="271.7" cy="115.0" r="1.45" fill="#5F6A80" fill-opacity="0.32"/><circle cx="292.1" cy="115.0" r="1.45" fill="#5F6A80" fill-opacity="0.32"/><circle cx="307.6" cy="115.0" r="1.45" fill="#5F6A80" fill-opacity="0.32"/><circle cx="319.0" cy="115.0" r="1.45" fill="#5F6A80" fill-opacity="0.32"/><circle cx="247.2" cy="108.4" r="1.45" fill="#4A5878" fill-opacity="0.55"/><circle cx="261.9" cy="108.4" r="1.45" fill="#4A5878" fill-opacity="0.55"/><circle cx="344.3" cy="121.5" r="1.45" fill="#4A5878" fill-opacity="0.55"/><circle cx="218.6" cy="121.5" r="1.45" fill="#5F6A80" fill-opacity="0.32"/><circle cx="252.9" cy="121.5" r="1.45" fill="#5F6A80" fill-opacity="0.32"/><circle cx="273.3" cy="121.5" r="1.45" fill="#5F6A80" fill-opacity="0.32"/><circle cx="330.4" cy="121.5" r="1.45" fill="#5F6A80" fill-opacity="0.32"/><circle cx="350.9" cy="121.5" r="1.45" fill="#5F6A80" fill-opacity="0.32"/><circle cx="367.2" cy="121.5" r="1.45" fill="#5F6A80" fill-opacity="0.32"/><circle cx="210.4" cy="128.1" r="1.45" fill="#5F6A80" fill-opacity="0.32"/><circle cx="218.6" cy="128.1" r="1.45" fill="#5F6A80" fill-opacity="0.32"/><circle cx="238.2" cy="128.1" r="1.45" fill="#5F6A80" fill-opacity="0.32"/><circle cx="264.3" cy="128.1" r="1.45" fill="#5F6A80" fill-opacity="0.32"/><circle cx="290.4" cy="128.1" r="1.45" fill="#5F6A80" fill-opacity="0.32"/><circle cx="238.2" cy="134.7" r="1.45" fill="#5F6A80" fill-opacity="0.32"/><circle cx="269.2" cy="134.7" r="1.45" fill="#5F6A80" fill-opacity="0.32"/><circle cx="274.1" cy="134.7" r="1.45" fill="#5F6A80" fill-opacity="0.32"/><circle cx="296.2" cy="134.7" r="1.45" fill="#5F6A80" fill-opacity="0.32"/><circle cx="234.9" cy="141.3" r="1.45" fill="#5F6A80" fill-opacity="0.32"/><circle cx="272.5" cy="141.3" r="1.45" fill="#5F6A80" fill-opacity="0.32"/><circle cx="256.2" cy="147.9" r="1.45" fill="#5F6A80" fill-opacity="0.32"/><circle cx="261.1" cy="147.9" r="1.45" fill="#5F6A80" fill-opacity="0.32"/><circle cx="316.6" cy="147.9" r="1.45" fill="#5F6A80" fill-opacity="0.32"/><circle cx="272.5" cy="154.4" r="1.45" fill="#5F6A80" fill-opacity="0.32"/><circle cx="400.7" cy="22.8" r="1.45" fill="#E8607F" fill-opacity="0.36"/><circle cx="369.6" cy="49.1" r="1.45" fill="#E8607F" fill-opacity="0.36"/><circle cx="374.5" cy="49.1" r="1.45" fill="#E8607F" fill-opacity="0.36"/><circle cx="371.3" cy="55.7" r="1.45" fill="#E8607F" fill-opacity="0.36"/><circle cx="452.1" cy="62.3" r="1.45" fill="#E8607F" fill-opacity="0.36"/><circle cx="369.6" cy="68.9" r="1.45" fill="#E8607F" fill-opacity="0.36"/><circle cx="407.2" cy="68.9" r="1.45" fill="#E8607F" fill-opacity="0.36"/><circle cx="411.3" cy="68.9" r="1.45" fill="#E8607F" fill-opacity="0.36"/><circle cx="418.6" cy="75.5" r="1.45" fill="#E8607F" fill-opacity="0.36"/><circle cx="439.8" cy="82.0" r="1.45" fill="#E8607F" fill-opacity="0.36"/><circle cx="448.8" cy="82.0" r="1.45" fill="#E8607F" fill-opacity="0.36"/><circle cx="473.3" cy="82.0" r="1.45" fill="#E8607F" fill-opacity="0.36"/><circle cx="511.7" cy="49.1" r="1.45" fill="#5F6A80" fill-opacity="0.32"/><circle cx="380.2" cy="55.7" r="1.45" fill="#5F6A80" fill-opacity="0.32"/><circle cx="439.8" cy="55.7" r="1.45" fill="#5F6A80" fill-opacity="0.32"/><circle cx="501.9" cy="55.7" r="1.45" fill="#5F6A80" fill-opacity="0.32"/><circle cx="508.4" cy="55.7" r="1.45" fill="#5F6A80" fill-opacity="0.32"/><circle cx="519.0" cy="55.7" r="1.45" fill="#5F6A80" fill-opacity="0.32"/><circle cx="521.5" cy="55.7" r="1.45" fill="#5F6A80" fill-opacity="0.32"/><circle cx="461.9" cy="68.9" r="1.45" fill="#5F6A80" fill-opacity="0.32"/><circle cx="501.1" cy="68.9" r="1.45" fill="#5F6A80" fill-opacity="0.32"/><circle cx="511.3" cy="68.9" r="1.45" fill="#5F6A80" fill-opacity="0.32"/><circle cx="525.6" cy="68.9" r="1.45" fill="#5F6A80" fill-opacity="0.32"/><circle cx="487.2" cy="75.5" r="1.45" fill="#5F6A80" fill-opacity="0.32"/><circle cx="452.1" cy="82.0" r="1.45" fill="#5F6A80" fill-opacity="0.32"/><circle cx="511.7" cy="82.0" r="1.45" fill="#5F6A80" fill-opacity="0.32"/><circle cx="516.6" cy="82.0" r="1.45" fill="#5F6A80" fill-opacity="0.32"/><circle cx="489.6" cy="62.3" r="1.45" fill="#3A6A9F" fill-opacity="0.65"/><circle cx="493.7" cy="62.3" r="1.45" fill="#3A6A9F" fill-opacity="0.65"/><circle cx="449.6" cy="75.5" r="1.45" fill="#4A5878" fill-opacity="0.55"/><circle cx="418.6" cy="88.6" r="1.45" fill="#5F6A80" fill-opacity="0.32"/><circle cx="426.8" cy="88.6" r="1.45" fill="#5F6A80" fill-opacity="0.32"/><circle cx="439.8" cy="88.6" r="1.45" fill="#5F6A80" fill-opacity="0.32"/><circle cx="473.3" cy="88.6" r="1.45" fill="#5F6A80" fill-opacity="0.32"/><circle cx="480.7" cy="88.6" r="1.45" fill="#5F6A80" fill-opacity="0.32"/><circle cx="379.4" cy="95.2" r="1.45" fill="#5F6A80" fill-opacity="0.32"/><circle cx="408.0" cy="95.2" r="1.45" fill="#5F6A80" fill-opacity="0.32"/><circle cx="412.0" cy="95.2" r="1.45" fill="#5F6A80" fill-opacity="0.32"/><circle cx="448.8" cy="95.2" r="1.45" fill="#5F6A80" fill-opacity="0.32"/><circle cx="461.0" cy="95.2" r="1.45" fill="#5F6A80" fill-opacity="0.32"/><circle cx="466.0" cy="95.2" r="1.45" fill="#5F6A80" fill-opacity="0.32"/><circle cx="500.2" cy="95.2" r="1.45" fill="#5F6A80" fill-opacity="0.32"/><circle cx="433.3" cy="101.8" r="1.45" fill="#5F6A80" fill-opacity="0.32"/><circle cx="451.3" cy="101.8" r="1.45" fill="#5F6A80" fill-opacity="0.32"/><circle cx="523.9" cy="101.8" r="1.45" fill="#5F6A80" fill-opacity="0.32"/><circle cx="426.8" cy="108.4" r="1.45" fill="#5F6A80" fill-opacity="0.32"/><circle cx="433.3" cy="108.4" r="1.45" fill="#5F6A80" fill-opacity="0.32"/><circle cx="461.9" cy="108.4" r="1.45" fill="#5F6A80" fill-opacity="0.32"/><circle cx="518.2" cy="108.4" r="1.45" fill="#5F6A80" fill-opacity="0.32"/><circle cx="518.2" cy="115.0" r="1.45" fill="#5F6A80" fill-opacity="0.32"/><circle cx="522.3" cy="115.0" r="1.45" fill="#5F6A80" fill-opacity="0.32"/><circle cx="369.6" cy="121.5" r="1.45" fill="#5F6A80" fill-opacity="0.32"/><circle cx="521.5" cy="121.5" r="1.45" fill="#5F6A80" fill-opacity="0.32"/><circle cx="439.8" cy="128.1" r="1.45" fill="#5F6A80" fill-opacity="0.32"/><circle cx="500.2" cy="128.1" r="1.45" fill="#5F6A80" fill-opacity="0.32"/><circle cx="524.7" cy="134.7" r="1.45" fill="#5F6A80" fill-opacity="0.32"/><circle cx="451.3" cy="141.3" r="1.45" fill="#5F6A80" fill-opacity="0.32"/><circle cx="464.3" cy="88.6" r="1.45" fill="#E8607F" fill-opacity="0.36"/><circle cx="490.4" cy="108.4" r="1.45" fill="#E8607F" fill-opacity="0.36"/><circle cx="461.9" cy="115.0" r="1.45" fill="#E8607F" fill-opacity="0.36"/><circle cx="501.1" cy="115.0" r="1.45" fill="#E8607F" fill-opacity="0.36"/><circle cx="511.7" cy="115.0" r="1.45" fill="#E8607F" fill-opacity="0.36"/><circle cx="506.0" cy="128.1" r="1.45" fill="#E8607F" fill-opacity="0.36"/><circle cx="517.4" cy="128.1" r="1.45" fill="#E8607F" fill-opacity="0.36"/><circle cx="512.5" cy="134.7" r="1.45" fill="#E8607F" fill-opacity="0.36"/><circle cx="666.4" cy="42.6" r="1.45" fill="#5F6A80" fill-opacity="0.32"/><circle cx="540.2" cy="49.1" r="1.45" fill="#5F6A80" fill-opacity="0.32"/><circle cx="593.3" cy="49.1" r="1.45" fill="#5F6A80" fill-opacity="0.32"/><circle cx="674.9" cy="49.1" r="1.45" fill="#5F6A80" fill-opacity="0.32"/><circle cx="667.6" cy="55.7" r="1.45" fill="#5F6A80" fill-opacity="0.32"/><circle cx="683.9" cy="55.7" r="1.45" fill="#5F6A80" fill-opacity="0.32"/><circle cx="541.9" cy="62.3" r="1.45" fill="#5F6A80" fill-opacity="0.32"/><circle cx="608.0" cy="62.3" r="1.45" fill="#5F6A80" fill-opacity="0.32"/><circle cx="657.0" cy="62.3" r="1.45" fill="#5F6A80" fill-opacity="0.32"/><circle cx="685.6" cy="62.3" r="1.45" fill="#5F6A80" fill-opacity="0.32"/><circle cx="532.9" cy="68.9" r="1.45" fill="#5F6A80" fill-opacity="0.32"/><circle cx="656.2" cy="68.9" r="1.45" fill="#5F6A80" fill-opacity="0.32"/><circle cx="665.0" cy="68.9" r="1.45" fill="#5F6A80" fill-opacity="0.32"/><circle cx="668.4" cy="68.9" r="1.45" fill="#5F6A80" fill-opacity="0.32"/><circle cx="553.3" cy="75.5" r="1.45" fill="#5F6A80" fill-opacity="0.32"/><circle cx="635.0" cy="75.5" r="1.45" fill="#5F6A80" fill-opacity="0.32"/><circle cx="531.3" cy="82.0" r="1.45" fill="#5F6A80" fill-opacity="0.32"/><circle cx="546.8" cy="82.0" r="1.45" fill="#5F6A80" fill-opacity="0.32"/><circle cx="571.3" cy="82.0" r="1.45" fill="#5F6A80" fill-opacity="0.32"/><circle cx="579.4" cy="82.0" r="1.45" fill="#5F6A80" fill-opacity="0.32"/><circle cx="666.8" cy="82.0" r="1.45" fill="#5F6A80" fill-opacity="0.32"/><circle cx="674.1" cy="82.0" r="1.45" fill="#5F6A80" fill-opacity="0.32"/><circle cx="552.5" cy="62.3" r="1.45" fill="#E8607F" fill-opacity="0.36"/><circle cx="587.6" cy="62.3" r="1.45" fill="#E8607F" fill-opacity="0.36"/><circle cx="551.7" cy="68.9" r="1.45" fill="#E8607F" fill-opacity="0.36"/><circle cx="555.0" cy="68.9" r="1.45" fill="#E8607F" fill-opacity="0.36"/><circle cx="614.5" cy="68.9" r="1.45" fill="#E8607F" fill-opacity="0.36"/><circle cx="619.0" cy="68.9" r="1.45" fill="#E8607F" fill-opacity="0.36"/><circle cx="624.3" cy="68.9" r="1.45" fill="#E8607F" fill-opacity="0.36"/><circle cx="681.5" cy="68.9" r="1.45" fill="#E8607F" fill-opacity="0.36"/><circle cx="687.0" cy="68.9" r="1.45" fill="#E8607F" fill-opacity="0.36"/><circle cx="562.3" cy="75.5" r="1.45" fill="#E8607F" fill-opacity="0.36"/><circle cx="578.6" cy="75.5" r="1.45" fill="#E8607F" fill-opacity="0.36"/><circle cx="587.6" cy="75.5" r="1.45" fill="#E8607F" fill-opacity="0.36"/><circle cx="644.7" cy="75.5" r="1.45" fill="#E8607F" fill-opacity="0.36"/><circle cx="676.6" cy="75.5" r="1.45" fill="#E8607F" fill-opacity="0.36"/><circle cx="681.5" cy="75.5" r="1.45" fill="#E8607F" fill-opacity="0.36"/><circle cx="684.7" cy="75.5" r="1.45" fill="#E8607F" fill-opacity="0.36"/><circle cx="541.9" cy="82.0" r="1.45" fill="#E8607F" fill-opacity="0.36"/><circle cx="590.0" cy="82.0" r="1.45" fill="#E8607F" fill-opacity="0.36"/><circle cx="617.0" cy="82.0" r="1.45" fill="#E8607F" fill-opacity="0.36"/><circle cx="624.3" cy="82.0" r="1.45" fill="#E8607F" fill-opacity="0.36"/><circle cx="635.8" cy="82.0" r="1.45" fill="#E8607F" fill-opacity="0.36"/><circle cx="652.0" cy="82.0" r="1.45" fill="#E8607F" fill-opacity="0.36"/><circle cx="655.3" cy="82.0" r="1.45" fill="#E8607F" fill-opacity="0.36"/><circle cx="682.3" cy="82.0" r="1.45" fill="#E8607F" fill-opacity="0.36"/><circle cx="577.8" cy="68.9" r="1.45" fill="#E0507A" fill-opacity="0.6"/><circle cx="552.5" cy="82.0" r="1.45" fill="#E0507A" fill-opacity="0.6"/><circle cx="543.5" cy="68.9" r="1.45" fill="#6FBF9F" fill-opacity="0.45"/><circle cx="546.8" cy="68.9" r="1.45" fill="#6FBF9F" fill-opacity="0.45"/><circle cx="545.1" cy="75.5" r="1.45" fill="#6FBF9F" fill-opacity="0.45"/><circle cx="549.0" cy="75.5" r="1.45" fill="#6FBF9F" fill-opacity="0.45"/><circle cx="538.6" cy="75.5" r="1.45" fill="#4A5878" fill-opacity="0.55"/><circle cx="542.7" cy="88.6" r="1.45" fill="#E8607F" fill-opacity="0.36"/><circle cx="549.2" cy="88.6" r="1.45" fill="#E8607F" fill-opacity="0.36"/><circle cx="611.3" cy="88.6" r="1.45" fill="#E8607F" fill-opacity="0.36"/><circle cx="628.4" cy="88.6" r="1.45" fill="#E8607F" fill-opacity="0.36"/><circle cx="634.9" cy="88.6" r="1.45" fill="#E8607F" fill-opacity="0.36"/><circle cx="684.7" cy="88.6" r="1.45" fill="#E8607F" fill-opacity="0.36"/><circle cx="634.9" cy="95.2" r="1.45" fill="#E8607F" fill-opacity="0.36"/><circle cx="532.9" cy="101.8" r="1.45" fill="#E8607F" fill-opacity="0.36"/><circle cx="545.1" cy="101.8" r="1.45" fill="#E8607F" fill-opacity="0.36"/><circle cx="675.8" cy="101.8" r="1.45" fill="#E8607F" fill-opacity="0.36"/><circle cx="531.3" cy="108.4" r="1.45" fill="#E8607F" fill-opacity="0.36"/><circle cx="541.1" cy="108.4" r="1.45" fill="#E8607F" fill-opacity="0.36"/><circle cx="656.2" cy="108.4" r="1.45" fill="#E8607F" fill-opacity="0.36"/><circle cx="666.0" cy="115.0" r="1.45" fill="#E8607F" fill-opacity="0.36"/><circle cx="538.6" cy="101.8" r="1.45" fill="#E0507A" fill-opacity="0.6"/><circle cx="550.0" cy="101.8" r="1.45" fill="#3A6A9F" fill-opacity="0.65"/><circle cx="577.8" cy="95.2" r="1.45" fill="#3A6A9F" fill-opacity="0.65"/><circle cx="611.3" cy="95.2" r="1.45" fill="#6FBF9F" fill-opacity="0.45"/><circle cx="537.0" cy="108.4" r="1.45" fill="#6FBF9F" fill-opacity="0.45"/><circle cx="664.3" cy="108.4" r="1.45" fill="#6FBF9F" fill-opacity="0.45"/><circle cx="551.7" cy="115.0" r="1.45" fill="#4A5878" fill-opacity="0.55"/><circle cx="603.1" cy="88.6" r="1.45" fill="#5F6A80" fill-opacity="0.32"/><circle cx="645.6" cy="88.6" r="1.45" fill="#5F6A80" fill-opacity="0.32"/><circle cx="654.5" cy="88.6" r="1.45" fill="#5F6A80" fill-opacity="0.32"/><circle cx="670.0" cy="88.6" r="1.45" fill="#5F6A80" fill-opacity="0.32"/><circle cx="680.7" cy="88.6" r="1.45" fill="#5F6A80" fill-opacity="0.32"/><circle cx="532.9" cy="95.2" r="1.45" fill="#5F6A80" fill-opacity="0.32"/><circle cx="542.7" cy="95.2" r="1.45" fill="#5F6A80" fill-opacity="0.32"/><circle cx="590.0" cy="95.2" r="1.45" fill="#5F6A80" fill-opacity="0.32"/><circle cx="623.5" cy="95.2" r="1.45" fill="#5F6A80" fill-opacity="0.32"/><circle cx="629.2" cy="95.2" r="1.45" fill="#5F6A80" fill-opacity="0.32"/><circle cx="654.5" cy="95.2" r="1.45" fill="#5F6A80" fill-opacity="0.32"/><circle cx="665.1" cy="95.2" r="1.45" fill="#5F6A80" fill-opacity="0.32"/><circle cx="679.8" cy="95.2" r="1.45" fill="#5F6A80" fill-opacity="0.32"/><circle cx="571.3" cy="101.8" r="1.45" fill="#5F6A80" fill-opacity="0.32"/><circle cx="577.0" cy="101.8" r="1.45" fill="#5F6A80" fill-opacity="0.32"/><circle cx="580.2" cy="101.8" r="1.45" fill="#5F6A80" fill-opacity="0.32"/><circle cx="586.8" cy="101.8" r="1.45" fill="#5F6A80" fill-opacity="0.32"/><circle cx="598.2" cy="101.8" r="1.45" fill="#5F6A80" fill-opacity="0.32"/><circle cx="614.5" cy="101.8" r="1.45" fill="#5F6A80" fill-opacity="0.32"/><circle cx="617.8" cy="101.8" r="1.45" fill="#5F6A80" fill-opacity="0.32"/><circle cx="634.9" cy="101.8" r="1.45" fill="#5F6A80" fill-opacity="0.32"/><circle cx="670.0" cy="101.8" r="1.45" fill="#5F6A80" fill-opacity="0.32"/><circle cx="680.7" cy="101.8" r="1.45" fill="#5F6A80" fill-opacity="0.32"/><circle cx="543.5" cy="108.4" r="1.45" fill="#5F6A80" fill-opacity="0.32"/><circle cx="553.3" cy="108.4" r="1.45" fill="#5F6A80" fill-opacity="0.32"/><circle cx="577.8" cy="108.4" r="1.45" fill="#5F6A80" fill-opacity="0.32"/><circle cx="594.1" cy="108.4" r="1.45" fill="#5F6A80" fill-opacity="0.32"/><circle cx="608.0" cy="108.4" r="1.45" fill="#5F6A80" fill-opacity="0.32"/><circle cx="617.8" cy="108.4" r="1.45" fill="#5F6A80" fill-opacity="0.32"/><circle cx="666.8" cy="108.4" r="1.45" fill="#5F6A80" fill-opacity="0.32"/><circle cx="617.0" cy="115.0" r="1.45" fill="#5F6A80" fill-opacity="0.32"/><circle cx="651.3" cy="115.0" r="1.45" fill="#5F6A80" fill-opacity="0.32"/><circle cx="676.6" cy="115.0" r="1.45" fill="#5F6A80" fill-opacity="0.32"/><circle cx="682.3" cy="115.0" r="1.45" fill="#5F6A80" fill-opacity="0.32"/><circle cx="685.6" cy="115.0" r="1.45" fill="#5F6A80" fill-opacity="0.32"/><circle cx="540.2" cy="121.5" r="1.45" fill="#5F6A80" fill-opacity="0.32"/><circle cx="552.5" cy="121.5" r="1.45" fill="#5F6A80" fill-opacity="0.32"/><circle cx="674.1" cy="121.5" r="1.45" fill="#5F6A80" fill-opacity="0.32"/><circle cx="685.6" cy="121.5" r="1.45" fill="#5F6A80" fill-opacity="0.32"/><circle cx="592.5" cy="128.1" r="1.45" fill="#5F6A80" fill-opacity="0.32"/><circle cx="680.7" cy="128.1" r="1.45" fill="#5F6A80" fill-opacity="0.32"/><circle cx="685.6" cy="128.1" r="1.45" fill="#5F6A80" fill-opacity="0.32"/><circle cx="550.0" cy="134.7" r="1.45" fill="#5F6A80" fill-opacity="0.32"/><circle cx="617.0" cy="134.7" r="1.45" fill="#5F6A80" fill-opacity="0.32"/><circle cx="635.8" cy="134.7" r="1.45" fill="#5F6A80" fill-opacity="0.32"/><circle cx="682.3" cy="134.7" r="1.45" fill="#5F6A80" fill-opacity="0.32"/><circle cx="628.4" cy="141.3" r="1.45" fill="#5F6A80" fill-opacity="0.32"/><circle cx="678.2" cy="147.9" r="1.45" fill="#5F6A80" fill-opacity="0.32"/><circle cx="836.6" cy="49.1" r="1.45" fill="#5F6A80" fill-opacity="0.32"/><circle cx="699.4" cy="55.7" r="1.45" fill="#5F6A80" fill-opacity="0.32"/><circle cx="736.2" cy="55.7" r="1.45" fill="#5F6A80" fill-opacity="0.32"/><circle cx="791.7" cy="55.7" r="1.45" fill="#5F6A80" fill-opacity="0.32"/><circle cx="810.1" cy="55.7" r="1.45" fill="#5F6A80" fill-opacity="0.32"/><circle cx="731.3" cy="62.3" r="1.45" fill="#5F6A80" fill-opacity="0.32"/><circle cx="749.2" cy="62.3" r="1.45" fill="#5F6A80" fill-opacity="0.32"/><circle cx="813.7" cy="62.3" r="1.45" fill="#5F6A80" fill-opacity="0.32"/><circle cx="818.6" cy="62.3" r="1.45" fill="#5F6A80" fill-opacity="0.32"/><circle cx="844.7" cy="62.3" r="1.45" fill="#5F6A80" fill-opacity="0.32"/><circle cx="707.6" cy="68.9" r="1.45" fill="#5F6A80" fill-opacity="0.32"/><circle cx="726.4" cy="68.9" r="1.45" fill="#5F6A80" fill-opacity="0.32"/><circle cx="747.6" cy="68.9" r="1.45" fill="#5F6A80" fill-opacity="0.32"/><circle cx="778.6" cy="68.9" r="1.45" fill="#5F6A80" fill-opacity="0.32"/><circle cx="692.9" cy="75.5" r="1.45" fill="#5F6A80" fill-opacity="0.32"/><circle cx="704.3" cy="75.5" r="1.45" fill="#5F6A80" fill-opacity="0.32"/><circle cx="714.9" cy="75.5" r="1.45" fill="#5F6A80" fill-opacity="0.32"/><circle cx="737.0" cy="75.5" r="1.45" fill="#5F6A80" fill-opacity="0.32"/><circle cx="789.2" cy="75.5" r="1.45" fill="#5F6A80" fill-opacity="0.32"/><circle cx="801.5" cy="75.5" r="1.45" fill="#5F6A80" fill-opacity="0.32"/><circle cx="817.8" cy="75.5" r="1.45" fill="#5F6A80" fill-opacity="0.32"/><circle cx="777.8" cy="82.0" r="1.45" fill="#5F6A80" fill-opacity="0.32"/><circle cx="793.3" cy="82.0" r="1.45" fill="#5F6A80" fill-opacity="0.32"/><circle cx="817.8" cy="82.0" r="1.45" fill="#5F6A80" fill-opacity="0.32"/><circle cx="720.7" cy="68.9" r="1.45" fill="#4A5878" fill-opacity="0.55"/><circle cx="763.1" cy="55.7" r="1.45" fill="#E8607F" fill-opacity="0.36"/><circle cx="777.8" cy="55.7" r="1.45" fill="#E8607F" fill-opacity="0.36"/><circle cx="689.6" cy="62.3" r="1.45" fill="#E8607F" fill-opacity="0.36"/><circle cx="701.9" cy="62.3" r="1.45" fill="#E8607F" fill-opacity="0.36"/><circle cx="707.6" cy="62.3" r="1.45" fill="#E8607F" fill-opacity="0.36"/><circle cx="689.6" cy="68.9" r="1.45" fill="#E8607F" fill-opacity="0.36"/><circle cx="793.3" cy="68.9" r="1.45" fill="#E8607F" fill-opacity="0.36"/><circle cx="722.3" cy="75.5" r="1.45" fill="#E8607F" fill-opacity="0.36"/><circle cx="728.8" cy="75.5" r="1.45" fill="#E8607F" fill-opacity="0.36"/><circle cx="747.6" cy="75.5" r="1.45" fill="#E8607F" fill-opacity="0.36"/><circle cx="766.4" cy="75.5" r="1.45" fill="#E8607F" fill-opacity="0.36"/><circle cx="771.0" cy="75.5" r="1.45" fill="#E8607F" fill-opacity="0.36"/><circle cx="775.6" cy="75.5" r="1.45" fill="#E8607F" fill-opacity="0.36"/><circle cx="779.4" cy="75.5" r="1.45" fill="#E8607F" fill-opacity="0.36"/><circle cx="794.1" cy="75.5" r="1.45" fill="#E8607F" fill-opacity="0.36"/><circle cx="689.6" cy="82.0" r="1.45" fill="#E8607F" fill-opacity="0.36"/><circle cx="749.2" cy="82.0" r="1.45" fill="#E8607F" fill-opacity="0.36"/><circle cx="830.0" cy="62.3" r="1.45" fill="#E0507A" fill-opacity="0.6"/><circle cx="766.4" cy="68.9" r="1.45" fill="#E0507A" fill-opacity="0.6"/><circle cx="771.0" cy="68.9" r="1.45" fill="#E0507A" fill-opacity="0.6"/><circle cx="776.0" cy="68.9" r="1.45" fill="#E0507A" fill-opacity="0.6"/><circle cx="689.6" cy="88.6" r="1.45" fill="#5F6A80" fill-opacity="0.32"/><circle cx="703.5" cy="88.6" r="1.45" fill="#5F6A80" fill-opacity="0.32"/><circle cx="726.0" cy="88.6" r="1.45" fill="#5F6A80" fill-opacity="0.32"/><circle cx="736.2" cy="88.6" r="1.45" fill="#5F6A80" fill-opacity="0.32"/><circle cx="745.1" cy="88.6" r="1.45" fill="#5F6A80" fill-opacity="0.32"/><circle cx="757.4" cy="88.6" r="1.45" fill="#5F6A80" fill-opacity="0.32"/><circle cx="772.9" cy="88.6" r="1.45" fill="#5F6A80" fill-opacity="0.32"/><circle cx="776.4" cy="88.6" r="1.45" fill="#5F6A80" fill-opacity="0.32"/><circle cx="779.4" cy="88.6" r="1.45" fill="#5F6A80" fill-opacity="0.32"/><circle cx="818.6" cy="88.6" r="1.45" fill="#5F6A80" fill-opacity="0.32"/><circle cx="689.6" cy="95.2" r="1.45" fill="#5F6A80" fill-opacity="0.32"/><circle cx="698.6" cy="95.2" r="1.45" fill="#5F6A80" fill-opacity="0.32"/><circle cx="706.0" cy="95.2" r="1.45" fill="#5F6A80" fill-opacity="0.32"/><circle cx="768.0" cy="95.2" r="1.45" fill="#5F6A80" fill-opacity="0.32"/><circle cx="689.6" cy="101.8" r="1.45" fill="#5F6A80" fill-opacity="0.32"/><circle cx="704.3" cy="101.8" r="1.45" fill="#5F6A80" fill-opacity="0.32"/><circle cx="720.7" cy="101.8" r="1.45" fill="#5F6A80" fill-opacity="0.32"/><circle cx="772.9" cy="101.8" r="1.45" fill="#5F6A80" fill-opacity="0.32"/><circle cx="793.3" cy="101.8" r="1.45" fill="#5F6A80" fill-opacity="0.32"/><circle cx="805.6" cy="101.8" r="1.45" fill="#5F6A80" fill-opacity="0.32"/><circle cx="836.6" cy="101.8" r="1.45" fill="#5F6A80" fill-opacity="0.32"/><circle cx="703.5" cy="108.4" r="1.45" fill="#5F6A80" fill-opacity="0.32"/><circle cx="717.4" cy="108.4" r="1.45" fill="#5F6A80" fill-opacity="0.32"/><circle cx="735.3" cy="108.4" r="1.45" fill="#5F6A80" fill-opacity="0.32"/><circle cx="747.6" cy="108.4" r="1.45" fill="#5F6A80" fill-opacity="0.32"/><circle cx="750.9" cy="108.4" r="1.45" fill="#5F6A80" fill-opacity="0.32"/><circle cx="757.4" cy="108.4" r="1.45" fill="#5F6A80" fill-opacity="0.32"/><circle cx="839.0" cy="108.4" r="1.45" fill="#5F6A80" fill-opacity="0.32"/><circle cx="706.8" cy="115.0" r="1.45" fill="#5F6A80" fill-opacity="0.32"/><circle cx="721.5" cy="115.0" r="1.45" fill="#5F6A80" fill-opacity="0.32"/><circle cx="762.3" cy="115.0" r="1.45" fill="#5F6A80" fill-opacity="0.32"/><circle cx="773.7" cy="115.0" r="1.45" fill="#5F6A80" fill-opacity="0.32"/><circle cx="777.8" cy="115.0" r="1.45" fill="#5F6A80" fill-opacity="0.32"/><circle cx="793.3" cy="115.0" r="1.45" fill="#5F6A80" fill-opacity="0.32"/><circle cx="830.0" cy="121.5" r="1.45" fill="#5F6A80" fill-opacity="0.32"/><circle cx="706.8" cy="128.1" r="1.45" fill="#5F6A80" fill-opacity="0.32"/><circle cx="728.8" cy="128.1" r="1.45" fill="#5F6A80" fill-opacity="0.32"/><circle cx="791.7" cy="128.1" r="1.45" fill="#5F6A80" fill-opacity="0.32"/><circle cx="777.8" cy="134.7" r="1.45" fill="#5F6A80" fill-opacity="0.32"/><circle cx="828.4" cy="134.7" r="1.45" fill="#5F6A80" fill-opacity="0.32"/><circle cx="729.6" cy="141.3" r="1.45" fill="#5F6A80" fill-opacity="0.32"/><circle cx="703.5" cy="154.4" r="1.45" fill="#5F6A80" fill-opacity="0.32"/><circle cx="720.7" cy="88.6" r="1.45" fill="#E8607F" fill-opacity="0.36"/><circle cx="730.4" cy="88.6" r="1.45" fill="#E8607F" fill-opacity="0.36"/><circle cx="748.4" cy="95.2" r="1.45" fill="#E8607F" fill-opacity="0.36"/><circle cx="801.5" cy="95.2" r="1.45" fill="#E8607F" fill-opacity="0.36"/><circle cx="813.7" cy="95.2" r="1.45" fill="#E8607F" fill-opacity="0.36"/><circle cx="810.4" cy="108.4" r="1.45" fill="#E8607F" fill-opacity="0.36"/><circle cx="843.9" cy="108.4" r="1.45" fill="#E8607F" fill-opacity="0.36"/><circle cx="721.5" cy="121.5" r="1.45" fill="#E8607F" fill-opacity="0.36"/><circle cx="835.8" cy="121.5" r="1.45" fill="#E8607F" fill-opacity="0.36"/><circle cx="703.5" cy="134.7" r="1.45" fill="#E8607F" fill-opacity="0.36"/><circle cx="714.1" cy="95.2" r="1.45" fill="#4A5878" fill-opacity="0.55"/><circle cx="768.0" cy="101.8" r="1.45" fill="#4A5878" fill-opacity="0.55"/><circle cx="767.2" cy="115.0" r="1.45" fill="#4A5878" fill-opacity="0.55"/><circle cx="770.4" cy="121.5" r="1.45" fill="#4A5878" fill-opacity="0.55"/><circle cx="721.5" cy="95.2" r="1.45" fill="#6FBF9F" fill-opacity="0.45"/><circle cx="726.4" cy="95.2" r="1.45" fill="#6FBF9F" fill-opacity="0.45"/><circle cx="731.3" cy="95.2" r="1.45" fill="#6FBF9F" fill-opacity="0.45"/><circle cx="762.3" cy="101.8" r="1.45" fill="#3A6A9F" fill-opacity="0.65"/><circle cx="691.3" cy="115.0" r="1.45" fill="#3A6A9F" fill-opacity="0.65"/><circle cx="400.4" cy="161.0" r="1.45" fill="#5F6A80" fill-opacity="0.32"/></g>
<path d="M77.70,352.22 L81.56,351.42 L85.41,350.64 L89.27,349.89 L93.12,349.16 L96.98,348.45 L100.83,347.76 L104.69,347.10 L108.55,346.45 L112.40,345.83 L116.26,345.23 L120.11,344.66 L123.97,344.10 L127.83,343.56 L131.68,343.04 L135.54,342.54 L139.39,342.07 L143.25,341.61 L147.10,341.17 L150.96,340.75 L154.82,340.35 L158.67,339.97 L162.53,339.61 L166.38,339.26 L170.24,338.93 L174.09,338.62 L177.95,338.33 L181.81,338.06 L185.66,337.80 L189.52,337.56 L193.37,337.33 L197.23,337.12 L201.08,336.93 L204.94,336.75 L208.80,336.59 L212.65,336.45 L216.51,336.32 L220.36,336.20 L224.22,336.10 L228.08,336.01 L231.93,335.94 L235.79,335.88 L239.64,335.84 L243.50,335.81 L247.35,335.79 L251.21,335.78 L255.07,335.79 L258.92,335.81 L262.78,335.84 L266.63,335.89 L270.49,335.94 L274.34,336.01 L278.20,336.09 L282.06,336.18 L285.91,336.27 L289.77,336.37 L293.62,336.48 L297.48,336.60 L301.34,336.72 L305.19,336.84 L309.05,336.97 L312.90,337.09 L316.76,337.22 L320.61,337.35 L324.47,337.47 L328.33,337.59 L332.18,337.71 L336.04,337.82 L339.89,337.93 L343.75,338.03 L347.60,338.12 L351.46,338.21 L355.32,338.28 L359.17,338.34 L363.03,338.39 L366.88,338.43 L370.74,338.45 L374.59,338.46 L378.45,338.46 L382.31,338.43 L386.16,338.39 L390.02,338.34 L393.87,338.26 L397.73,338.18 L401.59,338.08 L405.44,337.96 L409.30,337.84 L413.15,337.70 L417.01,337.55 L420.86,337.40 L424.72,337.23 L428.58,337.06 L432.43,336.88 L436.29,336.69 L440.14,336.50 L444.00,336.30 L447.85,336.10 L451.71,335.90 L455.57,335.69 L459.42,335.49 L463.28,335.28 L467.13,335.07 L470.99,334.87 L474.85,334.66 L478.70,334.47 L482.56,334.27 L486.41,334.09 L490.27,333.91 L494.12,333.74 L497.98,333.58 L501.84,333.43 L505.69,333.30 L509.55,333.18 L513.40,333.08 L517.26,332.99 L521.11,332.92 L524.97,332.87 L528.83,332.83 L532.68,332.82 L536.54,332.84 L540.39,332.87 L544.25,332.92 L548.11,332.99 L551.96,333.08 L555.82,333.19 L559.67,333.32 L563.53,333.46 L567.38,333.62 L571.24,333.79 L575.10,333.98 L578.95,334.17 L582.81,334.38 L586.66,334.59 L590.52,334.81 L594.37,335.03 L598.23,335.26 L602.09,335.48 L605.94,335.71 L609.80,335.94 L613.65,336.16 L617.51,336.38 L621.36,336.59 L625.22,336.80 L629.08,336.99 L632.93,337.19 L636.79,337.37 L640.64,337.55 L644.50,337.72 L648.36,337.88 L652.21,338.04 L656.07,338.19 L659.92,338.34 L663.78,338.48 L667.63,338.61 L671.49,338.74 L675.35,338.86 L679.20,338.98 L683.06,339.09 L686.91,339.20 L690.77,339.30 L694.62,339.40 L698.48,339.49 L702.34,339.58 L706.19,339.67 L710.05,339.75 L713.90,339.82 L717.76,339.89 L721.62,339.96 L725.47,340.02 L729.33,340.08 L733.18,340.14 L737.04,340.19 L740.89,340.24 L744.75,340.29 L748.61,340.34 L752.46,340.38 L756.32,340.42 L760.17,340.45 L764.03,340.49 L767.88,340.52 L771.74,340.55 L775.60,340.57 L779.45,340.60 L783.31,340.62 L787.16,340.64 L791.02,340.66 L794.87,340.68 L798.73,340.70 L802.59,340.72 L806.44,340.74 L810.30,340.75 L814.15,340.76 L818.01,340.78 L821.87,340.79 L825.72,340.81 L829.58,340.82 L833.43,340.83 L837.29,340.85 L841.14,340.86 L845.00,340.87" fill="none" stroke="#B8B8B8" stroke-width="1.6"/>
<path d="M77.70,80.26 L81.56,81.53 L85.41,82.73 L89.27,83.88 L93.12,84.98 L96.98,86.04 L100.83,87.06 L104.69,88.05 L108.55,89.00 L112.40,89.93 L116.26,90.83 L120.11,91.72 L123.97,92.59 L127.83,93.46 L131.68,94.32 L135.54,95.18 L139.39,96.05 L143.25,96.92 L147.10,97.81 L150.96,98.71 L154.82,99.63 L158.67,100.57 L162.53,101.51 L166.38,102.46 L170.24,103.40 L174.09,104.33 L177.95,105.25 L181.81,106.14 L185.66,107.01 L189.52,107.84 L193.37,108.64 L197.23,109.39 L201.08,110.09 L204.94,110.74 L208.80,111.34 L212.65,111.89 L216.51,112.41 L220.36,112.88 L224.22,113.33 L228.08,113.74 L231.93,114.13 L235.79,114.50 L239.64,114.85 L243.50,115.19 L247.35,115.51 L251.21,115.82 L255.07,116.13 L258.92,116.42 L262.78,116.71 L266.63,117.00 L270.49,117.29 L274.34,117.58 L278.20,117.87 L282.06,118.13 L285.91,118.37 L289.77,118.56 L293.62,118.71 L297.48,118.80 L301.34,118.81 L305.19,118.76 L309.05,118.63 L312.90,118.43 L316.76,118.17 L320.61,117.85 L324.47,117.47 L328.33,117.04 L332.18,116.56 L336.04,116.03 L339.89,115.46 L343.75,114.85 L347.60,114.19 L351.46,113.50 L355.32,112.78 L359.17,112.04 L363.03,111.26 L366.88,110.46 L370.74,109.64 L374.59,108.81 L378.45,107.96 L382.31,107.10 L386.16,106.23 L390.02,105.36 L393.87,104.49 L397.73,103.62 L401.59,102.75 L405.44,101.89 L409.30,101.04 L413.15,100.21 L417.01,99.39 L420.86,98.59 L424.72,97.81 L428.58,97.06 L432.43,96.33 L436.29,95.62 L440.14,94.94 L444.00,94.29 L447.85,93.67 L451.71,93.08 L455.57,92.51 L459.42,91.98 L463.28,91.47 L467.13,91.00 L470.99,90.57 L474.85,90.16 L478.70,89.80 L482.56,89.47 L486.41,89.17 L490.27,88.92 L494.12,88.70 L497.98,88.52 L501.84,88.38 L505.69,88.28 L509.55,88.21 L513.40,88.18 L517.26,88.18 L521.11,88.22 L524.97,88.30 L528.83,88.41 L532.68,88.55 L536.54,88.73 L540.39,88.94 L544.25,89.18 L548.11,89.46 L551.96,89.78 L555.82,90.12 L559.67,90.50 L563.53,90.92 L567.38,91.37 L571.24,91.85 L575.10,92.36 L578.95,92.91 L582.81,93.47 L586.66,94.05 L590.52,94.64 L594.37,95.22 L598.23,95.79 L602.09,96.34 L605.94,96.87 L609.80,97.36 L613.65,97.81 L617.51,98.21 L621.36,98.55 L625.22,98.83 L629.08,99.05 L632.93,99.22 L636.79,99.35 L640.64,99.44 L644.50,99.49 L648.36,99.52 L652.21,99.52 L656.07,99.49 L659.92,99.46 L663.78,99.42 L667.63,99.37 L671.49,99.33 L675.35,99.29 L679.20,99.25 L683.06,99.22 L686.91,99.19 L690.77,99.16 L694.62,99.13 L698.48,99.10 L702.34,99.06 L706.19,99.02 L710.05,98.98 L713.90,98.93 L717.76,98.87 L721.62,98.81 L725.47,98.73 L729.33,98.65 L733.18,98.56 L737.04,98.45 L740.89,98.33 L744.75,98.19 L748.61,98.04 L752.46,97.87 L756.32,97.69 L760.17,97.48 L764.03,97.26 L767.88,97.01 L771.74,96.75 L775.60,96.46 L779.45,96.14 L783.31,95.80 L787.16,95.43 L791.02,95.04 L794.87,94.62 L798.73,94.17 L802.59,93.68 L806.44,93.17 L810.30,92.62 L814.15,92.04 L818.01,91.42 L821.87,90.77 L825.72,90.08 L829.58,89.36 L833.43,88.59 L837.29,87.78 L841.14,86.93 L845.00,86.04" fill="none" stroke="#3D6DA3" stroke-width="1.9"/>
<path d="M77.70,80.28 L81.56,79.96 L85.41,79.64 L89.27,79.32 L93.12,79.00 L96.98,78.67 L100.83,78.35 L104.69,78.03 L108.55,77.71 L112.40,77.39 L116.26,77.07 L120.11,76.74 L123.97,76.42 L127.83,76.11 L131.68,75.79 L135.54,75.47 L139.39,75.15 L143.25,74.84 L147.10,74.53 L150.96,74.22 L154.82,73.91 L158.67,73.60 L162.53,73.29 L166.38,72.99 L170.24,72.68 L174.09,72.38 L177.95,72.09 L181.81,71.79 L185.66,71.50 L189.52,71.21 L193.37,70.92 L197.23,70.64 L201.08,70.36 L204.94,70.08 L208.80,69.80 L212.65,69.53 L216.51,69.26 L220.36,69.00 L224.22,68.74 L228.08,68.48 L231.93,68.23 L235.79,67.98 L239.64,67.74 L243.50,67.50 L247.35,67.26 L251.21,67.03 L255.07,66.81 L258.92,66.58 L262.78,66.37 L266.63,66.16 L270.49,65.95 L274.34,65.75 L278.20,65.56 L282.06,65.38 L285.91,65.21 L289.77,65.07 L293.62,64.94 L297.48,64.85 L301.34,64.77 L305.19,64.74 L309.05,64.73 L312.90,64.76 L316.76,64.84 L320.61,64.95 L324.47,65.12 L328.33,65.33 L332.18,65.58 L336.04,65.88 L339.89,66.21 L343.75,66.59 L347.60,67.01 L351.46,67.47 L355.32,67.97 L359.17,68.50 L363.03,69.07 L366.88,69.67 L370.74,70.31 L374.59,70.97 L378.45,71.67 L382.31,72.40 L386.16,73.16 L390.02,73.94 L393.87,74.75 L397.73,75.59 L401.59,76.45 L405.44,77.33 L409.30,78.24 L413.15,79.17 L417.01,80.11 L420.86,81.08 L424.72,82.06 L428.58,83.05 L432.43,84.04 L436.29,85.04 L440.14,86.02 L444.00,86.99 L447.85,87.94 L451.71,88.86 L455.57,89.75 L459.42,90.60 L463.28,91.40 L467.13,92.15 L470.99,92.86 L474.85,93.51 L478.70,94.10 L482.56,94.65 L486.41,95.14 L490.27,95.57 L494.12,95.95 L497.98,96.27 L501.84,96.53 L505.69,96.74 L509.55,96.88 L513.40,96.97 L517.26,96.99 L521.11,96.96 L524.97,96.86 L528.83,96.70 L532.68,96.49 L536.54,96.22 L540.39,95.89 L544.25,95.51 L548.11,95.09 L551.96,94.61 L555.82,94.09 L559.67,93.52 L563.53,92.91 L567.38,92.25 L571.24,91.56 L575.10,90.83 L578.95,90.07 L582.81,89.30 L586.66,88.51 L590.52,87.74 L594.37,86.98 L598.23,86.25 L602.09,85.57 L605.94,84.94 L609.80,84.38 L613.65,83.90 L617.51,83.52 L621.36,83.23 L625.22,83.06 L629.08,82.97 L632.93,82.97 L636.79,83.03 L640.64,83.13 L644.50,83.28 L648.36,83.44 L652.21,83.62 L656.07,83.78 L659.92,83.93 L663.78,84.03 L667.63,84.09 L671.49,84.08 L675.35,84.01 L679.20,83.87 L683.06,83.68 L686.91,83.44 L690.77,83.16 L694.62,82.86 L698.48,82.53 L702.34,82.19 L706.19,81.84 L710.05,81.50 L713.90,81.17 L717.76,80.86 L721.62,80.58 L725.47,80.33 L729.33,80.11 L733.18,79.92 L737.04,79.77 L740.89,79.64 L744.75,79.54 L748.61,79.48 L752.46,79.44 L756.32,79.44 L760.17,79.46 L764.03,79.51 L767.88,79.59 L771.74,79.69 L775.60,79.82 L779.45,79.98 L783.31,80.16 L787.16,80.37 L791.02,80.61 L794.87,80.87 L798.73,81.15 L802.59,81.46 L806.44,81.79 L810.30,82.15 L814.15,82.52 L818.01,82.92 L821.87,83.35 L825.72,83.79 L829.58,84.25 L833.43,84.74 L837.29,85.24 L841.14,85.76 L845.00,86.31" fill="none" stroke="#E5587A" stroke-width="1.9"/>
<path d="M77.8,23.099999999999998 L82.1,27.4 L77.8,31.7 L73.5,27.4 Z" fill="#F07C9C" fill-opacity="0.8"/>
<path d="M77.5,92.4 L81.8,96.7 L77.5,101.0 L73.2,96.7 Z" fill="#6F80A8" fill-opacity="0.85"/>
<path d="M77.5,386.79999999999995 L82.1,391.4 L77.5,396.0 L72.9,391.4 Z" fill="#D2D2D2" fill-opacity="0.8"/>
<line x1="74.50" x2="74.50" y1="409.5" y2="411.7" stroke="#444" stroke-width="0.9"/>
<line x1="128.08" x2="128.08" y1="409.5" y2="411.7" stroke="#444" stroke-width="0.9"/>
<line x1="181.85" x2="181.85" y1="409.5" y2="411.7" stroke="#444" stroke-width="0.9"/>
<line x1="235.82" x2="235.82" y1="409.5" y2="411.7" stroke="#444" stroke-width="0.9"/>
<line x1="289.59" x2="289.59" y1="409.5" y2="411.7" stroke="#444" stroke-width="0.9"/>
<line x1="343.17" x2="343.17" y1="409.5" y2="411.7" stroke="#444" stroke-width="0.9"/>
<line x1="396.75" x2="396.75" y1="409.5" y2="411.7" stroke="#444" stroke-width="0.9"/>
<line x1="450.72" x2="450.72" y1="409.5" y2="411.7" stroke="#444" stroke-width="0.9"/>
<line x1="504.68" x2="504.68" y1="409.5" y2="411.7" stroke="#444" stroke-width="0.9"/>
<line x1="558.26" x2="558.26" y1="409.5" y2="411.7" stroke="#444" stroke-width="0.9"/>
<line x1="611.84" x2="611.84" y1="409.5" y2="411.7" stroke="#444" stroke-width="0.9"/>
<line x1="665.81" x2="665.81" y1="409.5" y2="411.7" stroke="#444" stroke-width="0.9"/>
<line x1="719.58" x2="719.58" y1="409.5" y2="411.7" stroke="#444" stroke-width="0.9"/>
<line x1="773.35" x2="773.35" y1="409.5" y2="411.7" stroke="#444" stroke-width="0.9"/>
<line x1="826.93" x2="826.93" y1="409.5" y2="411.7" stroke="#444" stroke-width="0.9"/>
<line x1="880.90" x2="880.90" y1="409.5" y2="411.7" stroke="#444" stroke-width="0.9"/>
<text x="74.50" y="419.7" font-size="8.3" fill="#4D4D4D" text-anchor="middle">Sep 2014</text>
<text x="128.08" y="419.7" font-size="8.3" fill="#4D4D4D" text-anchor="middle">Jun 2015</text>
<text x="181.85" y="419.7" font-size="8.3" fill="#4D4D4D" text-anchor="middle">Mar 2016</text>
<text x="235.82" y="419.7" font-size="8.3" fill="#4D4D4D" text-anchor="middle">Dec 2016</text>
<text x="289.59" y="419.7" font-size="8.3" fill="#4D4D4D" text-anchor="middle">Sep 2017</text>
<text x="343.17" y="419.7" font-size="8.3" fill="#4D4D4D" text-anchor="middle">Jun 2018</text>
<text x="396.75" y="419.7" font-size="8.3" fill="#4D4D4D" text-anchor="middle">Mar 2019</text>
<text x="450.72" y="419.7" font-size="8.3" fill="#4D4D4D" text-anchor="middle">Dec 2019</text>
<text x="504.68" y="419.7" font-size="8.3" fill="#4D4D4D" text-anchor="middle">Sep 2020</text>
<text x="558.26" y="419.7" font-size="8.3" fill="#4D4D4D" text-anchor="middle">Jun 2021</text>
<text x="611.84" y="419.7" font-size="8.3" fill="#4D4D4D" text-anchor="middle">Mar 2022</text>
<text x="665.81" y="419.7" font-size="8.3" fill="#4D4D4D" text-anchor="middle">Dec 2022</text>
<text x="719.58" y="419.7" font-size="8.3" fill="#4D4D4D" text-anchor="middle">Sep 2023</text>
<text x="773.35" y="419.7" font-size="8.3" fill="#4D4D4D" text-anchor="middle">Jun 2024</text>
<text x="826.93" y="419.7" font-size="8.3" fill="#4D4D4D" text-anchor="middle">Mar 2025</text>
<text x="880.90" y="419.7" font-size="8.3" fill="#4D4D4D" text-anchor="middle">Dec 2025</text>
<line x1="36.9" x2="39.2" y1="391.40" y2="391.40" stroke="#333" stroke-width="1"/>
<text x="36.3" y="394.60" font-size="9" fill="#4D4D4D" text-anchor="end">0%</text>
<line x1="36.9" x2="39.2" y1="325.58" y2="325.58" stroke="#333" stroke-width="1"/>
<text x="36.3" y="328.78" font-size="9" fill="#4D4D4D" text-anchor="end">10%</text>
<line x1="36.9" x2="39.2" y1="259.76" y2="259.76" stroke="#333" stroke-width="1"/>
<text x="36.3" y="262.96" font-size="9" fill="#4D4D4D" text-anchor="end">20%</text>
<line x1="36.9" x2="39.2" y1="193.94" y2="193.94" stroke="#333" stroke-width="1"/>
<text x="36.3" y="197.14" font-size="9" fill="#4D4D4D" text-anchor="end">30%</text>
<line x1="36.9" x2="39.2" y1="128.12" y2="128.12" stroke="#333" stroke-width="1"/>
<text x="36.3" y="131.32" font-size="9" fill="#4D4D4D" text-anchor="end">40%</text>
<line x1="36.9" x2="39.2" y1="62.30" y2="62.30" stroke="#333" stroke-width="1"/>
<text x="36.3" y="65.50" font-size="9" fill="#4D4D4D" text-anchor="end">50%</text>
<rect x="896.1" y="184.2" width="17.0" height="56.2" fill="#F0F0F0"/>
<line x1="897" x2="912.3" y1="194.0" y2="194.0" stroke="#46699A" stroke-width="1.7"/>
<text x="914.2" y="198.5" font-size="12" fill="#1A1A1A">Yes</text>
<line x1="897" x2="912.3" y1="212.7" y2="212.7" stroke="#E3668A" stroke-width="1.7"/>
<text x="914.2" y="217.2" font-size="12" fill="#1A1A1A">No</text>
<line x1="897" x2="912.3" y1="231.7" y2="231.7" stroke="#BDBDBD" stroke-width="1.7"/>
<text x="914.2" y="235.5" font-size="12" fill="#1A1A1A">Undecided</text>
</svg></body></html>
